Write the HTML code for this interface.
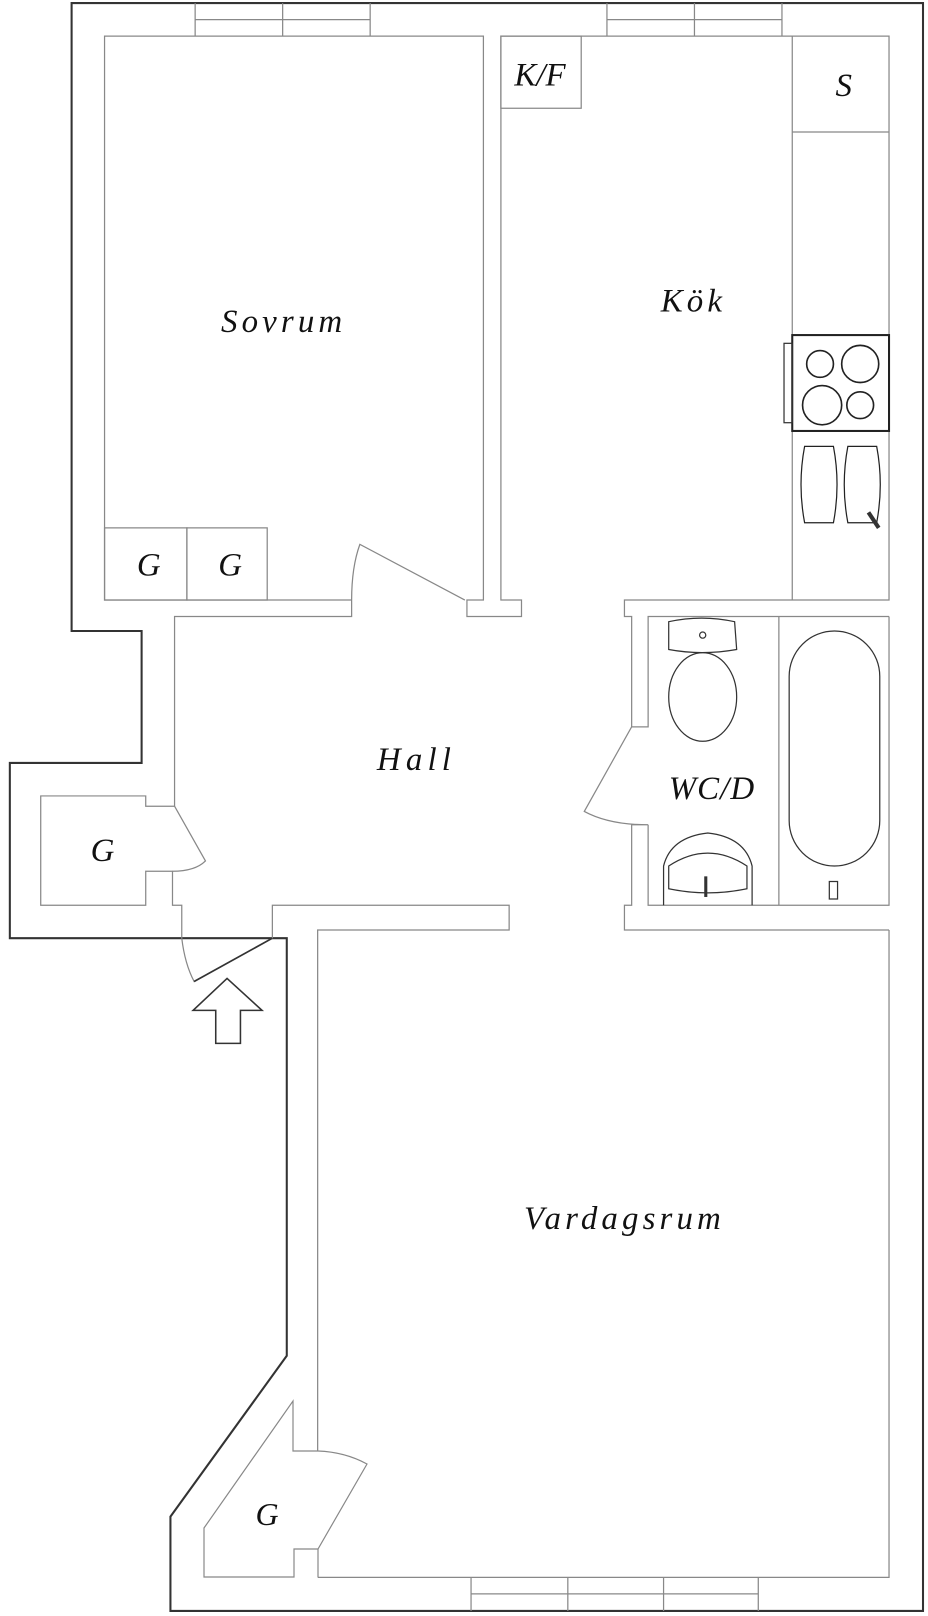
<!DOCTYPE html>
<html><head><meta charset="utf-8"><style>
html,body{margin:0;padding:0;background:#fff;}
svg{display:block;}
text{font-family:"Liberation Serif",serif;font-style:italic;fill:#111;}
</style></head><body>
<svg width="928" height="1616" viewBox="0 0 928 1616" xmlns="http://www.w3.org/2000/svg">
<g transform="translate(1.6,0) scale(1.0295,1.031)" fill="none" stroke="#888" stroke-width="1.2">
<path d="M68,3 H895 V1562.5 H164 V1471 L277,1315 V910 H8 V740 H136 V612 H68 Z" stroke="#333" stroke-width="2"/>
<path d="M188,3 V35 M273,3 V35 M358,3 V35 M188,19 H358"/>
<path d="M588,3 V35 M673,3 V35 M758,3 V35 M588,19 H758"/>
<path d="M340,582 H100 V35 H468 V582 H452 V598 H505 V582 H485 V35 H862 V582 H605 V598 H612 V705 H628 V598 H862"/>
<path d="M168,782 V598 H340 V582"/>
<rect x="100" y="512" width="80" height="70"/><rect x="180" y="512" width="78" height="70"/>
<path d="M340,582 Q340,550 348,528 L450,582"/>
<rect x="485" y="35" width="78" height="70"/>
<path d="M768,35 V582 M768,128 H862"/>
<rect x="768" y="325" width="94" height="93" stroke="#222" stroke-width="2"/>
<rect x="760" y="333" width="8" height="77" stroke="#333"/>
<circle cx="795" cy="353" r="13" stroke="#222" stroke-width="1.6"/>
<circle cx="834" cy="353" r="18" stroke="#222" stroke-width="1.6"/>
<circle cx="797" cy="393" r="19" stroke="#222" stroke-width="1.6"/>
<circle cx="834" cy="393" r="13" stroke="#222" stroke-width="1.6"/>
<path d="M780,433 H808 Q815,470 808,507 H780 Q773,470 780,433 Z" stroke="#222"/>
<path d="M822,433 H850 Q857,470 850,507 H822 Q815,470 822,433 Z" stroke="#222"/>
<path d="M842,497 L852,512" stroke="#333" stroke-width="4"/>
<path d="M628,800 V878 H862 V598 M755,598 V878"/>
<rect x="765" y="612" width="88" height="228" rx="44" stroke="#333"/>
<path d="M804,855 H812 V872 H804 Z" stroke="#333"/>
<path d="M612,705 L566,787 Q590,800 628,800 H612 V878 H605 V902 H862"/>
<path d="M648,603 Q680,596 712,603 L714,630 Q680,636 648,630 Z" stroke="#333"/>
<circle cx="681" cy="616" r="3" stroke="#333"/>
<ellipse cx="681" cy="676" rx="33" ry="43" stroke="#333"/>
<path d="M643,878 V840 Q650,812 686,808 Q722,812 729,840 V878" stroke="#333"/>
<path d="M648,840 Q686,815 724,840 V862 Q686,870 648,862 Z" stroke="#333"/>
<path d="M684,850 V870" stroke="#333" stroke-width="3"/>
<path d="M168,782 H140 V772 H38 V878 H140 V845 H166 V878 H175 V910"/>
<path d="M168,782 L198,835 Q188,845 166,845"/>
<path d="M175,910 Q178,935 187,952 L263,910 V878 H493 V902 H307 V1407"/>
<path d="M187,952 L263,910" stroke="#333" stroke-width="1.6"/>
<path d="M208,1012 V980 H186 L219,949 L253,980 H232 V1012 Z" stroke="#333" stroke-width="1.5"/>
<path d="M456,1530 V1562.5 M550,1530 V1562.5 M643,1530 V1562.5 M735,1530 V1562.5 M456,1546 H735"/>
<path d="M307,1530 H862 V902"/>
</g>
<g fill="none" stroke="#888" stroke-width="1.2">
<path d="M318,1451 Q345,1452 367,1464 L318,1549 H294 V1577 H204 V1528 L293,1401 V1451 H318"/>
<path d="M318,1549 V1577"/>
</g>
<g transform="translate(1.6,0) scale(1.0295,1.031)" font-size="32">
<text x="274" y="322" text-anchor="middle" letter-spacing="4">Sovrum</text>
<text x="672" y="302" text-anchor="middle" letter-spacing="4">Kök</text>
<text x="523" y="83" text-anchor="middle">K/F</text>
<text x="818" y="93" text-anchor="middle">S</text>
<text x="143" y="558" text-anchor="middle">G</text>
<text x="222" y="558" text-anchor="middle">G</text>
<text x="403" y="747" text-anchor="middle" letter-spacing="5">Hall</text>
<text x="690" y="775" text-anchor="middle" letter-spacing="1">WC/D</text>
<text x="98" y="835" text-anchor="middle">G</text>
<text x="605" y="1192" text-anchor="middle" letter-spacing="4">Vardagsrum</text>
</g>
<text x="267" y="1525" font-size="32" text-anchor="middle">G</text>
</svg>
</body></html>
